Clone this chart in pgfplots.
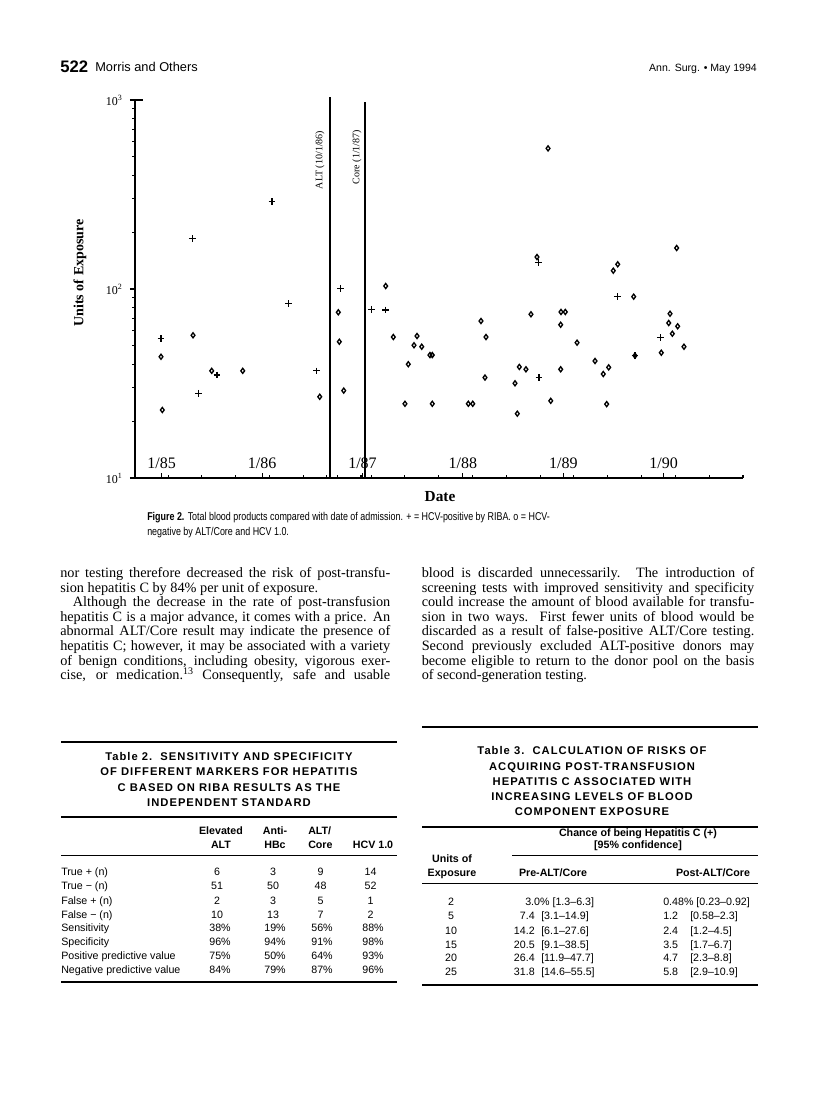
\documentclass[border=0pt]{standalone}
\usepackage{fontspec}
\usepackage{pgfplots}
\pgfplotsset{compat=1.18}
\usepackage{graphicx}
\setmainfont{Liberation Serif}
\newfontfamily\sansf[Ligatures=TeX]{Liberation Sans}
\newfontfamily\sanst[LetterSpace=9]{Liberation Sans}
\newcommand\bodyfont{\fontsize{10.7}{11}\selectfont}
\newcommand\tabfont{\sansf\fontsize{8}{9.6}\selectfont}
\newcommand\titfont{\sanst\bfseries\fontsize{8.4}{9.6}\selectfont}
\begin{document}
\begin{tikzpicture}
% ---------------- chart (placed in pt: px*0.75, y downward)
\begin{axis}[
  at={(101.25pt,-358.5pt)}, anchor=south west,
  scale only axis, width=456pt, height=283.5pt,
  xmin=1984.734, xmax=1990.79,
  ymode=log, ymin=10, ymax=1000,
  axis x line=bottom, axis y line=left,
  axis line style={-, line width=1pt},
  clip=false,
  xtick={1985,1986,1987,1988,1989,1990},
  xticklabels={1/85,1/86,1/87,1/88,1/89,1/90},
  minor xtick={1985.063,1985.400,1985.737,1986.074,1986.411,1986.646,1986.748,1986.985,1987.085,1987.421,1987.758,1988.095,1988.432,1988.769,1989.106,1989.443,1989.780,1990.117,1990.454,1990.790},
  xtick align=inside, ytick align=outside,
  major tick length=3.8pt, minor tick length=2pt,
  every tick/.style={black, line width=0.8pt},
  xticklabel style={anchor=south, yshift=3.5pt, font=\fontsize{12}{12}\selectfont},
  ytick={10,100,1000},
  yticklabels={10\textsuperscript{1},10\textsuperscript{2},10\textsuperscript{3}},
  yticklabel style={font=\fontsize{9}{9}\selectfont, xshift=-2pt},
]
\addplot[black, line width=0.9pt] coordinates {(1986.676,10) (1986.676,1038)};
\addplot[black, line width=0.9pt] coordinates {(1987.025,10) (1987.025,975)};
\addplot[only marks, mark=+, mark size=2.5pt, black, mark options={line width=0.95pt}] coordinates {
(1984.993,54.8) (1985.305,185.4) (1985.365,28.1) (1985.551,35.1) (1986.099,289.7)
(1986.265,83.6) (1986.544,36.9) (1986.783,100.9) (1987.092,78.1) (1987.231,77.4)
(1988.751,137.7) (1988.758,33.9) (1989.538,91.1) (1989.714,44.4) (1989.966,55.3)
};
\addplot[only marks, mark=diamond, mark size=1.9pt, black, mark options={line width=1pt}] coordinates {
(1984.993,43.8) (1985.006,22.9) (1985.312,56.9) (1985.498,36.9) (1985.807,36.9)
(1986.574,26.9) (1986.759,75.3) (1986.769,52.6) (1986.813,29.0) (1987.231,103.7)
(1987.307,55.7) (1987.423,24.7) (1987.456,40.0) (1987.513,50.4) (1987.543,56.4)
(1987.590,49.5) (1987.672,44.7) (1987.695,44.7) (1987.695,24.7) (1988.054,24.7)
(1988.098,24.7) (1988.180,67.7) (1988.230,55.7) (1988.220,34.0) (1988.519,31.7)
(1988.542,21.9) (1988.562,38.7) (1988.628,37.6) (1988.678,73.5) (1988.738,147.6)
(1988.848,554.6) (1988.875,25.6) (1988.977,75.6) (1989.020,75.6) (1988.974,64.7)
(1988.974,37.6) (1989.137,52.0) (1989.316,41.6) (1989.398,35.5) (1989.452,38.5)
(1989.432,24.6) (1989.498,125.0) (1989.542,135.1) (1989.701,91.1) (1989.714,44.4)
(1990.129,164.8) (1990.063,74.0) (1990.050,66.1) (1990.139,63.5) (1990.086,58.0)
(1989.976,46.0) (1990.202,49.5)
};
\end{axis}
\begin{scope}[x=0.75pt,y=-0.75pt]
\path (0,0) rectangle (816,1103);
% ---------------- header
\node[anchor=base west,inner sep=0pt,font=\sansf\bfseries\fontsize{12.5}{14}\selectfont] at (60,72) {522};
\node[anchor=base west,inner sep=0pt,font=\sansf\fontsize{9.6}{11}\selectfont] at (95,71) {Morris and Others};
\node[anchor=base east,inner sep=0pt,font=\sansf\fontsize{7.9}{9}\selectfont] at (757,71) {Ann. Surg. \textbullet\ May 1994};
\draw[line width=1pt] (135,100) -- (143,100);
\node[rotate=90,inner sep=0pt,font=\fontsize{7.5}{8}\selectfont] at (320,160) {ALT (10/1/86)};
\node[rotate=90,inner sep=0pt,font=\fontsize{7.5}{8}\selectfont] at (357,157) {Core (1/1/87)};
\node[rotate=90,inner sep=0pt,font=\bfseries\fontsize{10.5}{12}\selectfont] at (80,273) {Units of Exposure};
\node[inner sep=0pt,font=\bfseries\fontsize{11.5}{12}\selectfont] at (440,497) {Date};
% ---------------- caption
\node[anchor=base west,inner sep=0pt] at (147,520) {\resizebox{302pt}{\height}{\sansf\fontsize{8.5}{11.25}\selectfont\begin{tabular}[t]{@{}l@{}}\textbf{Figure 2.} Total blood products compared with date of admission. + = HCV-positive by RIBA. o = HCV-\\ negative by ALT/Core and HCV 1.0.\end{tabular}}};
% ---------------- body text
\begin{scope}[every node/.style={anchor=base west,inner sep=0pt,font=\bodyfont}]
\node at (60,577.5) {\makebox[247.5pt][s]{nor testing therefore decreased the risk of post-transfu-}};
\node at (60,592.1) {sion hepatitis C by 84\% per unit of exposure.};
\node at (60,606.7) {\makebox[247.5pt][s]{\hspace*{9.5pt}Although the decrease in the rate of post-transfusion}};
\node at (60,621.3) {\makebox[247.5pt][s]{hepatitis C is a major advance, it comes with a price. An}};
\node at (60,635.9) {\makebox[247.5pt][s]{abnormal ALT/Core result may indicate the presence of}};
\node at (60,650.5) {\makebox[247.5pt][s]{hepatitis C; however, it may be associated with a variety}};
\node at (60,665.1) {\makebox[247.5pt][s]{of benign conditions, including obesity, vigorous exer-}};
\node at (60,679.7) {\makebox[247.5pt][s]{cise, or medication.\textsuperscript{13} Consequently, safe and usable}};
\node at (421.5,577.5) {\makebox[249.4pt][s]{blood is discarded unnecessarily. The introduction of}};
\node at (421.5,592.1) {\makebox[249.4pt][s]{screening tests with improved sensitivity and specificity}};
\node at (421.5,606.7) {\makebox[249.4pt][s]{could increase the amount of blood available for transfu-}};
\node at (421.5,621.3) {\makebox[249.4pt][s]{sion in two ways. First fewer units of blood would be}};
\node at (421.5,635.9) {\makebox[249.4pt][s]{discarded as a result of false-positive ALT/Core testing.}};
\node at (421.5,650.5) {\makebox[249.4pt][s]{Second previously excluded ALT-positive donors may}};
\node at (421.5,665.1) {\makebox[249.4pt][s]{become eligible to return to the donor pool on the basis}};
\node at (421.5,679.7) {of second-generation testing.};
\end{scope}
% ---------------- Table 2
\draw[line width=1.5pt] (61,741.7) -- (397,741.7);
\begin{scope}[every node/.style={anchor=base,inner sep=0pt,font=\titfont}]
\node at (229,760) {Table 2.\ \ SENSITIVITY AND SPECIFICITY};
\node at (229,775) {OF DIFFERENT MARKERS FOR HEPATITIS};
\node at (229,791) {C BASED ON RIBA RESULTS AS THE};
\node at (229,806) {INDEPENDENT STANDARD};
\end{scope}
\draw[line width=1.2pt] (61,816.7) -- (397,816.7);
\begin{scope}[every node/.style={anchor=base,inner sep=0pt,font=\tabfont\bfseries}]
\node at (221,834) {Elevated}; \node at (221,848) {ALT};
\node at (275,834) {Anti-}; \node at (275,848) {HBc};
\node[anchor=base west] at (308,834) {ALT/}; \node[anchor=base west] at (308,848) {Core};
\node at (373,848) {HCV 1.0};
\end{scope}
\draw[line width=0.8pt] (61,855.5) -- (397,855.5);
\begin{scope}[every node/.style={anchor=base,inner sep=0pt,font=\tabfont}]
\node[anchor=base west] at (61,875.7) {True + (n)};
\node[anchor=base west] at (61,889.7) {True − (n)};
\node[anchor=base west] at (61,904) {False + (n)};
\node[anchor=base west] at (61,918) {False − (n)};
\node[anchor=base west] at (61,931.7) {Sensitivity};
\node[anchor=base west] at (61,945.7) {Specificity};
\node[anchor=base west] at (61,959.7) {Positive predictive value};
\node[anchor=base west] at (61,973.3) {Negative predictive value};
\node at (217,875.7) {6};  \node at (273,875.7) {3};  \node at (320.5,875.7) {9};  \node at (370.5,875.7) {14};
\node at (217,889.7) {51}; \node at (273,889.7) {50}; \node at (320.5,889.7) {48}; \node at (370.5,889.7) {52};
\node at (217,904) {2};    \node at (273,904) {3};    \node at (320.5,904) {5};    \node at (370.5,904) {1};
\node at (217,918) {10};   \node at (273,918) {13};   \node at (320.5,918) {7};    \node at (370.5,918) {2};
\node at (220,931.7) {38\%}; \node at (275,931.7) {19\%}; \node at (322,931.7) {56\%}; \node at (373,931.7) {88\%};
\node at (220,945.7) {96\%}; \node at (275,945.7) {94\%}; \node at (322,945.7) {91\%}; \node at (373,945.7) {98\%};
\node at (220,959.7) {75\%}; \node at (275,959.7) {50\%}; \node at (322,959.7) {64\%}; \node at (373,959.7) {93\%};
\node at (220,973.3) {84\%}; \node at (275,973.3) {79\%}; \node at (322,973.3) {87\%}; \node at (373,973.3) {96\%};
\end{scope}
\draw[line width=1.5pt] (61,982.3) -- (397,982.3);
% ---------------- Table 3
\draw[line width=1.5pt] (422,727) -- (758,727);
\begin{scope}[every node/.style={anchor=base,inner sep=0pt,font=\titfont}]
\node at (592,754) {Table 3.\ \ CALCULATION OF RISKS OF};
\node at (592,770) {ACQUIRING POST-TRANSFUSION};
\node at (592,785) {HEPATITIS C ASSOCIATED WITH};
\node at (592,800) {INCREASING LEVELS OF BLOOD};
\node at (592,815) {COMPONENT EXPOSURE};
\end{scope}
\draw[line width=1.2pt] (422,826.7) -- (758,826.7);
\begin{scope}[every node/.style={anchor=base,inner sep=0pt,font=\tabfont\bfseries}]
\node at (638,836) {Chance of being Hepatitis C (+)};
\node at (638,848) {[95\% confidence]};
\node at (452,862) {Units of};
\node at (452,876) {Exposure};
\node at (553,876) {Pre-ALT/Core};
\node at (713,876) {Post-ALT/Core};
\end{scope}
\draw[line width=0.8pt] (512,855.7) -- (758,855.7);
\draw[line width=0.8pt] (422,883.3) -- (758,883.3);
\begin{scope}[every node/.style={anchor=base,inner sep=0pt,font=\tabfont}]
\node at (451,905.7) {2};
\node at (451,919.7) {5};
\node at (451,934) {10};
\node at (451,948) {15};
\node at (451,961.7) {20};
\node at (451,975.7) {25};
\node[anchor=base west] at (525,905.7) {3.0\% [1.3–6.3]};
\node[anchor=base east] at (535,919.7) {7.4};  \node[anchor=base west] at (541,919.7) {[3.1–14.9]};
\node[anchor=base east] at (535,934) {14.2};   \node[anchor=base west] at (541,934) {[6.1–27.6]};
\node[anchor=base east] at (535,948) {20.5};   \node[anchor=base west] at (541,948) {[9.1–38.5]};
\node[anchor=base east] at (535,961.7) {26.4}; \node[anchor=base west] at (541,961.7) {[11.9–47.7]};
\node[anchor=base east] at (535,975.7) {31.8}; \node[anchor=base west] at (541,975.7) {[14.6–55.5]};
\node[anchor=base west] at (663,905.7) {0.48\% [0.23–0.92]};
\node[anchor=base west] at (663,919.7) {1.2};  \node[anchor=base west] at (690,919.7) {[0.58–2.3]};
\node[anchor=base west] at (663,934) {2.4};    \node[anchor=base west] at (690,934) {[1.2–4.5]};
\node[anchor=base west] at (663,948) {3.5};    \node[anchor=base west] at (690,948) {[1.7–6.7]};
\node[anchor=base west] at (663,961.7) {4.7};  \node[anchor=base west] at (690,961.7) {[2.3–8.8]};
\node[anchor=base west] at (663,975.7) {5.8};  \node[anchor=base west] at (690,975.7) {[2.9–10.9]};
\end{scope}
\draw[line width=1.5pt] (422,985) -- (758,985);
\end{scope}
\end{tikzpicture}
\end{document}
